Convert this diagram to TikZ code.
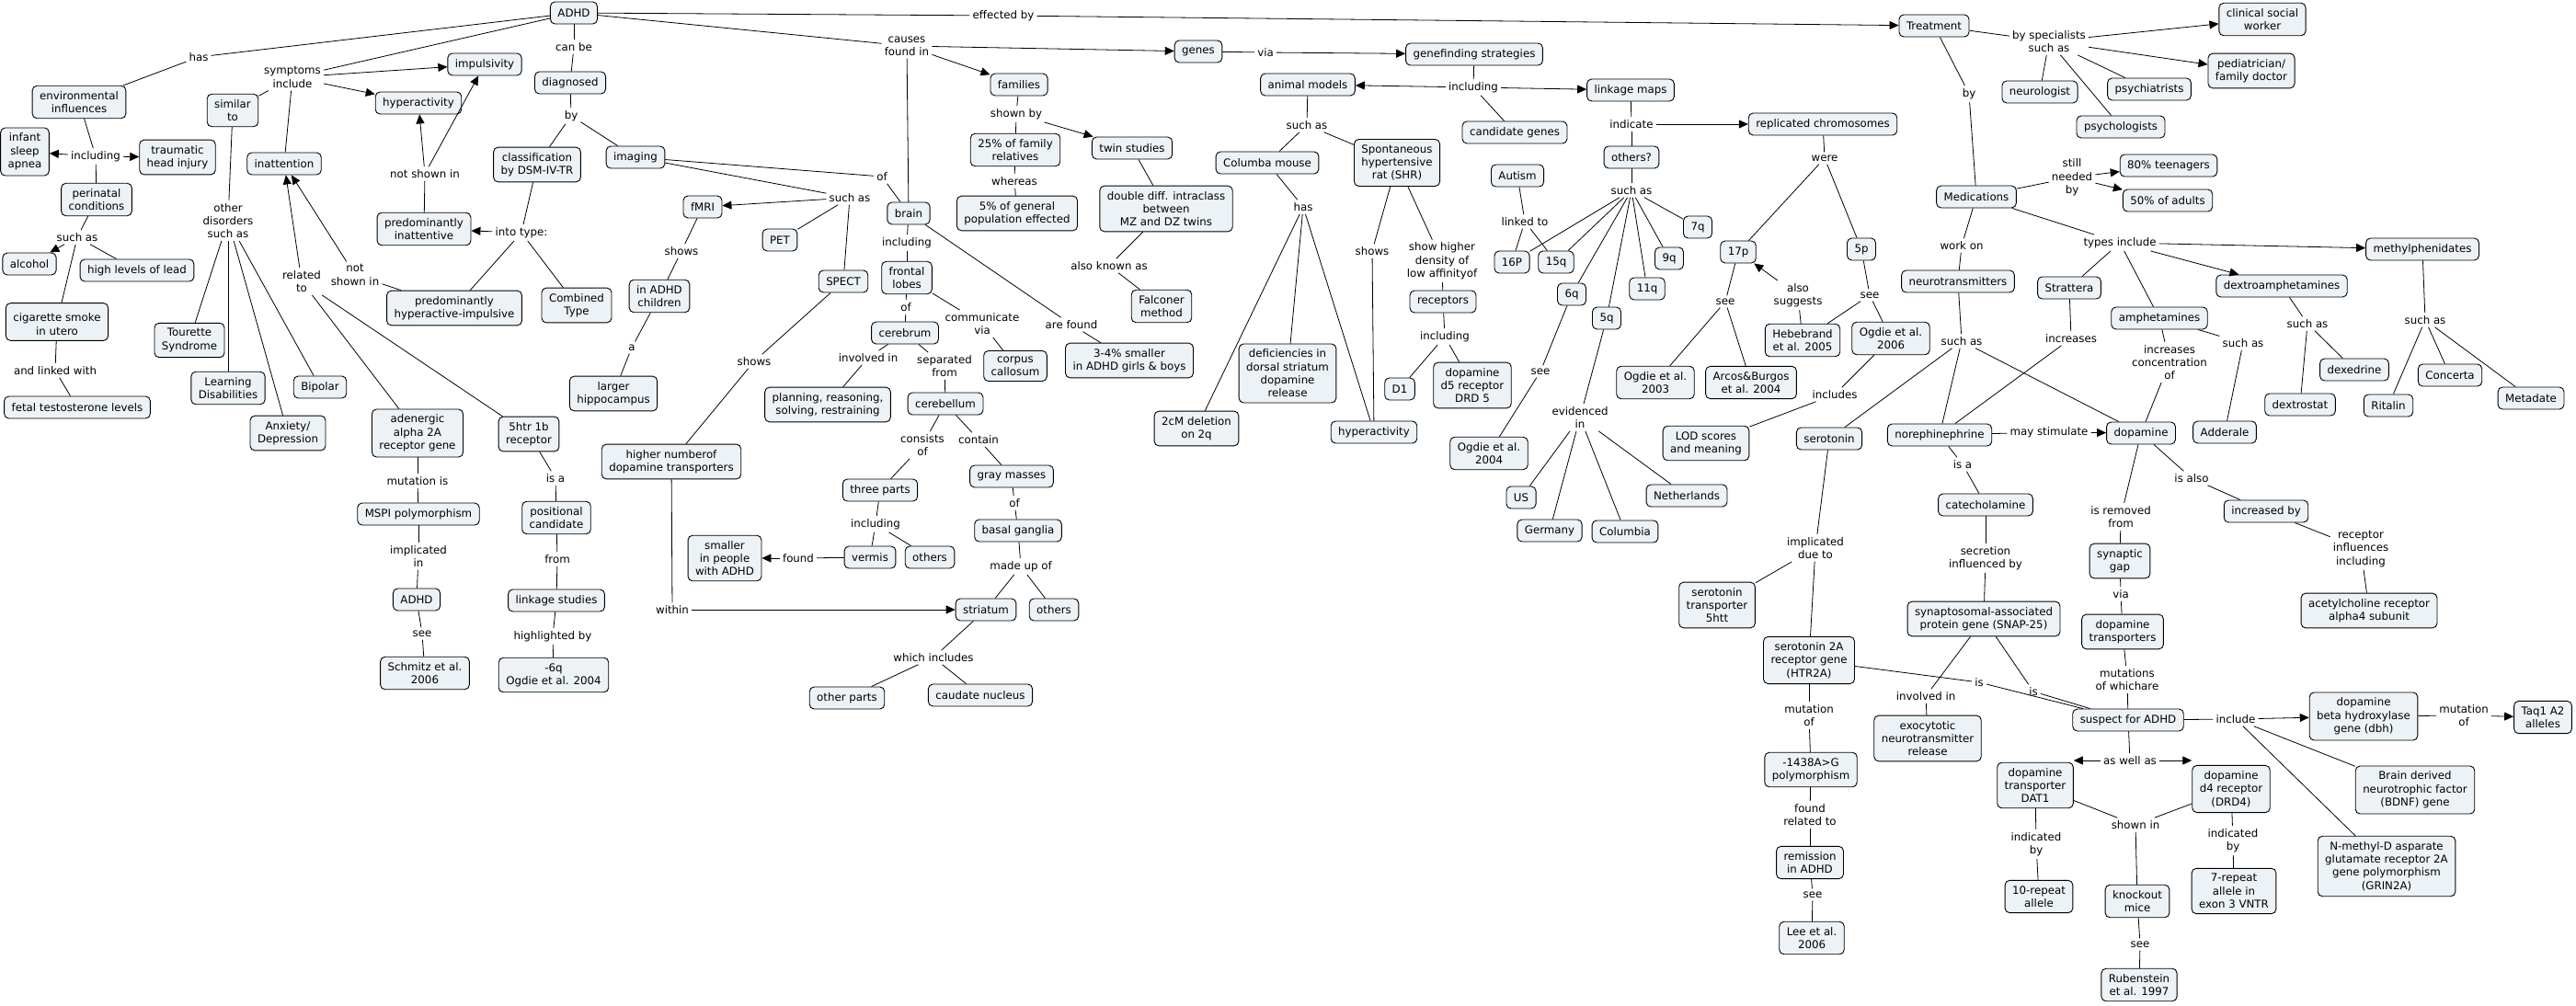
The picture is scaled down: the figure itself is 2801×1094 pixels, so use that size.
\documentclass[tikz,border=0pt]{standalone}
\usepackage{fontspec}
\setmainfont{DejaVu Sans}
\usepackage{tikz}
\usetikzlibrary{arrows.meta}
\definecolor{cmapfill}{RGB}{236,242,245}

\begin{document}
\begin{tikzpicture}[x=1pt,y=-1pt,
cpt/.style={draw,line width=0.9pt,rounded corners=5pt,fill=cmapfill,align=center,inner xsep=8pt,inner ysep=6pt,minimum height=24pt,font=\fontsize{11.8}{14.3}\selectfont},
lnk/.style={align=center,inner sep=3pt,font=\fontsize{11.8}{14.3}\selectfont},
ln/.style={line width=0.8pt},
arr/.style={-{Triangle[length=10pt,width=9pt]},line width=0.8pt}]
\path[use as bounding box,fill=white] (0,0) rectangle (2801,1094);

\node[cpt] (adhd) at (624,14) {ADHD};
\node[lnk] (has) at (216,62) {has};
\node[lnk] (sympt) at (318,84) {symptoms\\include};
\node[cpt] (impuls) at (527,70) {impulsivity};
\node[lnk] (canbe) at (624,51) {can be};
\node[cpt] (diag) at (620,90) {diagnosed};
\node[lnk] (diagby) at (621,126) {by};
\node[cpt] (envinf) at (86,111) {environmental\\influences};
\node[cpt] (simto) at (253,120) {similar\\to};
\node[cpt] (hypact) at (455,112) {hyperactivity};
\node[cpt] (infant) at (27,165) {infant\\sleep\\apnea};
\node[lnk] (envincl) at (104,170) {including};
\node[cpt] (trauma) at (193,171) {traumatic\\head injury};
\node[cpt] (inatt) at (309,178) {inattention};
\node[cpt] (dsm) at (584,179) {classification\\by DSM-IV-TR};
\node[cpt] (imaging) at (691,171) {imaging};
\node[lnk] (notshA) at (462,189) {not shown in};
\node[cpt] (perin) at (105,217) {perinatal\\conditions};
\node[cpt] (predin) at (461,249) {predominantly\\inattentive};
\node[lnk] (intotype) at (567,253) {into type:};
\node[lnk] (othdis) at (248,240) {other\\disorders\\such as};
\node[lnk] (perinsa) at (84,258) {such as};
\node[cpt] (alcohol) at (32,287) {alcohol};
\node[cpt] (lead) at (149,294) {high levels of lead};
\node[lnk] (relto) at (328,306) {related\\to};
\node[lnk] (notshB) at (386,299) {not\\shown in};
\node[cpt] (predhy) at (494,335) {predominantly\\hyperactive-impulsive};
\node[cpt] (combined) at (627,332) {Combined\\Type};
\node[cpt] (inchild) at (717,322) {in ADHD\\children};
\node[cpt] (cigar) at (62,350) {~\\cigarette smoke\\in utero};
\node[cpt] (tourette) at (206,370) {Tourette\\Syndrome};
\node[lnk] (linkedw) at (60,403) {and linked with};
\node[cpt] (fetal) at (84,443) {fetal testosterone levels};
\node[cpt] (learning) at (248,422) {Learning\\Disabilities};
\node[cpt] (bipolar) at (348,421) {Bipolar};
\node[cpt] (anxiety) at (313,471) {Anxiety/\\Depression};
\node[cpt] (adrenA) at (454,471) {adenergic\\alpha 2A\\receptor gene};
\node[cpt] (htrB) at (575,472) {5htr 1b\\receptor};
\node[cpt] (hippo) at (667,428) {larger\\hippocampus};
\node[lnk] (lbla) at (687,378) {a};
\node[cpt] (hinum) at (730,502) {higher numberof\\dopamine transporters};
\node[lnk] (mutis) at (454,523) {mutation is};
\node[lnk] (isaA) at (604,520) {is a};
\node[cpt] (mspi) at (455,559) {MSPI polymorphism};
\node[cpt] (poscand) at (605,563) {positional\\candidate};
\node[lnk] (implin) at (455,605) {implicated\\in};
\node[lnk] (from) at (606,608) {from};
\node[cpt] (adhdB) at (453,652) {ADHD};
\node[cpt] (linkst) at (605,653) {linkage studies};
\node[lnk] (seeA) at (459,689) {see};
\node[lnk] (highl) at (601,692) {highlighted by};
\node[cpt] (schmitz) at (462,732) {Schmitz et al.\\2006};
\node[cpt] (ogdieA) at (602,734) {-6q\\Ogdie et al. 2004};

\node[lnk] (effby) at (1091,17) {effected by};
\node[lnk] (causes) at (986,50) {causes\\found in};
\node[cpt] (genes) at (1303,56) {genes};
\node[lnk] (via) at (1376,57) {via};
\node[cpt] (families) at (1108,92) {families};
\node[lnk] (shownby) at (1105,124) {shown by};
\node[cpt] (fam25) at (1104,163) {25\% of family\\relatives};
\node[cpt] (twin) at (1231,161) {twin studies};
\node[lnk] (whereas) at (1103,197) {whereas};
\node[cpt] (gen5) at (1106,232) {5\% of general\\population effected};
\node[cpt] (doubled) at (1268,227) {double diff. intraclass\\between\\MZ and DZ twins};
\node[lnk] (imgof) at (959,192) {of};
\node[lnk] (imgsa) at (924,215) {such as};
\node[cpt] (fmri) at (764,225) {fMRI};
\node[cpt] (brain) at (988,232) {brain};
\node[cpt] (pet) at (848,261) {PET};
\node[lnk] (fmrish) at (741,273) {shows};
\node[lnk] (brincl) at (986,264) {including};
\node[cpt] (frontal) at (986,302) {frontal\\lobes};
\node[cpt] (spect) at (917,306) {SPECT};
\node[lnk] (aka) at (1206,289) {also known as};
\node[cpt] (falconer) at (1263,333) {Falconer\\method};
\node[lnk] (froof) at (985,334) {of};
\node[lnk] (commvia) at (1068,352) {communicate\\via};
\node[lnk] (arefound) at (1165,353) {are found};
\node[cpt] (cerebrum) at (984,362) {cerebrum};
\node[cpt] (animal) at (1422,92) {animal models};
\node[cpt] (columba) at (1378,177) {Columba mouse};
\node[lnk] (anisa) at (1421,136) {such as};
\node[lnk] (colhas) at (1417,225) {has};

\node[cpt] (treat) at (2103,28) {Treatment};
\node[cpt] (genefind) at (1603,59) {genefinding strategies};
\node[lnk] (gfincl) at (1602,95) {including};
\node[cpt] (linkmaps) at (1773,98) {linkage maps};
\node[cpt] (candgen) at (1647,144) {candidate genes};
\node[lnk] (indicate) at (1774,135) {indicate};
\node[cpt] (replchr) at (1982,135) {replicated chromosomes};
\node[cpt] (shr) at (1519,177) {Spontaneous\\hypertensive\\rat (SHR)};
\node[cpt] (others) at (1774,171) {others?};
\node[cpt] (autism) at (1650,191) {Autism};
\node[lnk] (were) at (1984,172) {were};
\node[lnk] (othsa) at (1774,207) {such as};
\node[lnk] (linkedto) at (1658,241) {linked to};
\node[cpt] (q7) at (1846,247) {7q};
\node[lnk] (shrshows) at (1492,273) {shows};
\node[lnk] (showhigh) at (1568,284) {show higher\\density of\\low affinityof};
\node[cpt] (p16) at (1644,285) {16P};
\node[cpt] (q15) at (1692,285) {15q};
\node[cpt] (q9) at (1815,281) {9q};
\node[cpt] (p17) at (1890,274) {17p};
\node[cpt] (p5) at (2024,271) {5p};
\node[cpt] (q11) at (1791,314) {11q};
\node[cpt] (q6) at (1709,320) {6q};
\node[cpt] (receptors) at (1569,328) {receptors};
\node[lnk] (see17) at (1876,328) {see};
\node[lnk] (alsosug) at (1955,321) {also\\suggests};
\node[lnk] (see5) at (2033,321) {see};
\node[cpt] (q5) at (1747,346) {5q};
\node[lnk] (recincl) at (1571,366) {including};
\node[cpt] (hebe) at (1960,370) {Hebebrand\\et al. 2005};
\node[cpt] (ogdie06) at (2056,368) {Ogdie et al.\\2006};

\node[cpt] (deficit) at (1400,406) {deficiencies in\\dorsal striatum\\dopamine\\release};
\node[cpt] (dA) at (1522,423) {D1};
\node[cpt] (drd5) at (1601,419) {dopamine\\d5 receptor\\DRD 5};
\node[lnk] (see6) at (1675,404) {see};
\node[cpt] (ogdie03) at (1800,416) {Ogdie et al.\\2003};
\node[cpt] (arcos) at (1904,416) {Arcos\&Burgos\\et al. 2004};
\node[lnk] (includes) at (1995,429) {includes};
\node[cpt] (hypactB) at (1494,470) {hyperactivity};
\node[lnk] (evid) at (1718,454) {evidenced\\in};
\node[cpt] (ogdie04) at (1619,493) {Ogdie et al.\\2004};
\node[cpt] (lod) at (1855,482) {LOD scores\\and meaning};
\node[cpt] (sero) at (1989,477) {serotonin};
\node[cpt] (noreph) at (2109,473) {norephinephrine};
\node[cpt] (us) at (1654,541) {US};
\node[cpt] (nether) at (1834,539) {Netherlands};
\node[cpt] (germany) at (1685,577) {Germany};
\node[cpt] (columbia) at (1767,578) {Columbia};
\node[lnk] (impldue) at (1974,596) {implicated\\due to};
\node[cpt] (htt) at (1867,658) {serotonin\\transporter\\5htt};
\node[cpt] (htr2a) at (1967,718) {serotonin 2A\\receptor gene\\(HTR2A)};
\node[cpt] (snap) at (2157,673) {synaptosomal-associated\\protein gene (SNAP-25)};

\node[lnk] (brshows) at (820,393) {shows};
\node[lnk] (invin) at (944,389) {involved in};
\node[lnk] (sepfrom) at (1027,398) {separated\\from};
\node[cpt] (corpus) at (1104,398) {corpus\\callosum};
\node[cpt] (smaller34) at (1228,392) {3-4\% smaller\\in ADHD girls \& boys};
\node[cpt] (planning) at (900,440) {planning, reasoning,\\solving, restraining};
\node[cpt] (cerebel) at (1028,439) {cerebellum};
\node[cpt] (cm2) at (1301,466) {2cM deletion\\on 2q};
\node[lnk] (consof) at (1003,484) {consists\\of};
\node[lnk] (contain) at (1064,478) {contain};
\node[cpt] (threep) at (957,533) {three parts};
\node[cpt] (gray) at (1100,518) {gray masses};
\node[lnk] (grayof) at (1103,547) {of};
\node[lnk] (tpincl) at (952,570) {including};
\node[cpt] (basal) at (1107,577) {basal ganglia};
\node[cpt] (smallpe) at (788,607) {smaller\\in people\\with ADHD};
\node[lnk] (found) at (868,607) {found};
\node[cpt] (vermis) at (946,606) {vermis};
\node[cpt] (othersA) at (1011,606) {others};
\node[lnk] (madeup) at (1110,616) {made up of};
\node[lnk] (within) at (731,663) {within};
\node[cpt] (striatum) at (1072,663) {striatum};
\node[cpt] (othersB) at (1146,663) {others};
\node[lnk] (whichinc) at (1015,715) {which includes};
\node[cpt] (othparts) at (921,759) {other parts};
\node[cpt] (caudate) at (1066,756) {caudate nucleus};

\node[lnk] (byspec) at (2228,45) {by specialists\\such as};
\node[cpt] (social) at (2460,21) {clinical social\\worker};
\node[cpt] (pediat) at (2448,77) {pediatrician/\\family doctor};
\node[cpt] (neuro) at (2218,100) {neurologist};
\node[cpt] (psychi) at (2337,97) {psychiatrists};
\node[cpt] (psycho) at (2306,138) {psychologists};
\node[lnk] (trby) at (2141,102) {by};
\node[cpt] (teen) at (2358,180) {80\% teenagers};
\node[lnk] (stillby) at (2253,193) {still\\needed\\by};
\node[cpt] (adults) at (2357,218) {50\% of adults};
\node[cpt] (meds) at (2149,214) {Medications};
\node[lnk] (workon) at (2133,267) {work on};
\node[lnk] (typesinc) at (2305,264) {types include};
\node[cpt] (methyl) at (2634,271) {methylphenidates};
\node[cpt] (neurotr) at (2129,306) {neurotransmitters};
\node[cpt] (stratt) at (2250,313) {Strattera};
\node[cpt] (dextro) at (2481,311) {dextroamphetamines};
\node[cpt] (amphet) at (2348,346) {amphetamines};
\node[lnk] (dexsa) at (2509,352) {such as};
\node[lnk] (metsa) at (2637,348) {such as};
\node[lnk] (ntsa) at (2133,371) {such as};
\node[lnk] (incr) at (2252,368) {increases};
\node[lnk] (ampsa) at (2439,373) {such as};
\node[lnk] (incconc) at (2359,394) {increases\\concentration\\of};
\node[cpt] (dexedrine) at (2560,402) {dexedrine};
\node[cpt] (concerta) at (2664,408) {Concerta};
\node[cpt] (metadate) at (2752,433) {Metadate};
\node[cpt] (dextrostat) at (2501,440) {dextrostat};
\node[cpt] (ritalin) at (2597,441) {Ritalin};
\node[cpt] (dopa) at (2328,471) {dopamine};
\node[cpt] (adderale) at (2419,470) {Adderale};
\node[lnk] (maystim) at (2228,470) {may stimulate};
\node[lnk] (isaB) at (2134,505) {is a};
\node[lnk] (isalso) at (2383,520) {is also};
\node[cpt] (catech) at (2159,549) {catecholamine};
\node[lnk] (remfrom) at (2306,562) {is removed\\from};
\node[cpt] (incby) at (2464,556) {increased by};
\node[lnk] (recinf) at (2567,597) {receptor\\influences\\including};
\node[cpt] (synap) at (2305,610) {synaptic\\gap};
\node[lnk] (secr) at (2159,607) {secretion\\influenced by};
\node[lnk] (viaB) at (2306,646) {via};
\node[cpt] (acetyl) at (2576,664) {acetylcholine receptor\\alpha4 subunit};
\node[cpt] (dat) at (2308,687) {dopamine\\transporters};
\node[lnk] (mutwh) at (2313,739) {mutations\\of whichare};
\node[lnk] (isC) at (2152,742) {is};
\node[lnk] (isD) at (2211,752) {is};
\node[lnk] (involv) at (2094,757) {involved in};
\node[cpt] (suspect) at (2314,783) {suspect for ADHD};
\node[lnk] (include) at (2431,782) {include};
\node[cpt] (dbh) at (2570,779) {dopamine\\beta hydroxylase\\gene (dbh)};
\node[lnk] (mutofA) at (2679,778) {mutation\\of};
\node[cpt] (taq) at (2765,780) {Taq1 A2\\alleles};
\node[cpt] (exocyt) at (2096,803) {exocytotic\\neurotransmitter\\release};
\node[lnk] (aswell) at (2316,827) {as well as};
\node[cpt] (dat1) at (2213,854) {dopamine\\transporter\\DAT1};
\node[cpt] (drd4) at (2426,858) {dopamine\\d4 receptor\\(DRD4)};
\node[cpt] (bdnf) at (2626,859) {Brain derived\\neurotrophic factor\\(BDNF) gene};
\node[lnk] (shownin) at (2322,897) {shown in};
\node[lnk] (indA) at (2214,918) {indicated\\by};
\node[lnk] (indB) at (2428,914) {indicated\\by};
\node[cpt] (grin) at (2595,942) {N-methyl-D asparate\\glutamate receptor 2A\\gene polymorphism\\(GRIN2A)};
\node[cpt] (rep10) at (2217,975) {10-repeat\\allele};
\node[cpt] (knock) at (2324,980) {knockout\\mice};
\node[cpt] (rep7) at (2429,969) {7-repeat\\allele in\\exon 3 VNTR};
\node[lnk] (seeK) at (2327,1027) {see};
\node[cpt] (ruben) at (2326,1071) {Rubenstein\\et al. 1997};
\node[lnk] (mutofB) at (1967,778) {mutation\\of};
\node[cpt] (poly) at (1969,837) {-1438A>G\\polymorphism};
\node[lnk] (foundrel) at (1968,886) {found\\related to};
\node[cpt] (remiss) at (1968,938) {remission\\in ADHD};
\node[lnk] (seeL) at (1971,973) {see};
\node[cpt] (lee) at (1970,1020) {Lee et al.\\2006};

\draw[ln] (adhd)--(has); \draw[ln] (has)--(envinf);
\draw[ln] (adhd)--(sympt); \draw[arr] (sympt)--(impuls); \draw[arr] (sympt)--(hypact);
\draw[ln] (sympt)--(inatt); \draw[ln] (sympt)--(simto);
\draw[ln] (adhd)--(canbe); \draw[ln] (canbe)--(diag); \draw[ln] (diag)--(diagby);
\draw[ln] (diagby)--(dsm); \draw[ln] (diagby)--(imaging);
\draw[ln] (envinf)--(envincl); \draw[arr] (envincl)--(infant); \draw[arr] (envincl)--(trauma); \draw[ln] (envincl)--(perin);
\draw[ln] (perin)--(perinsa); \draw[arr] (perinsa)--(alcohol); \draw[ln] (perinsa)--(lead); \draw[ln] (perinsa)--(cigar);
\draw[ln] (cigar)--(linkedw); \draw[ln] (linkedw)--(fetal);
\draw[ln] (simto)--(othdis); \draw[ln] (othdis)--(tourette); \draw[ln] (othdis)--(learning);
\draw[ln] (othdis)--(bipolar); \draw[ln] (othdis)--(anxiety);
\draw[ln] (dsm)--(intotype); \draw[arr] (intotype)--(predin); \draw[ln] (intotype)--(predhy); \draw[ln] (intotype)--(combined);
\draw[ln] (predin)--(notshA); \draw[arr] (notshA)--(hypact); \draw[arr] (notshA)--(impuls);
\draw[ln] (predhy)--(notshB); \draw[arr] (notshB)--(inatt);
\draw[arr] (relto)--(inatt); \draw[ln] (relto)--(adrenA); \draw[ln] (relto)--(htrB);
\draw[ln] (adrenA)--(mutis); \draw[ln] (mutis)--(mspi); \draw[ln] (mspi)--(implin); \draw[ln] (implin)--(adhdB);
\draw[ln] (adhdB)--(seeA); \draw[ln] (seeA)--(schmitz);
\draw[ln] (htrB)--(isaA); \draw[ln] (isaA)--(poscand); \draw[ln] (poscand)--(from); \draw[ln] (from)--(linkst);
\draw[ln] (linkst)--(highl); \draw[ln] (highl)--(ogdieA);
\draw[ln] (imaging)--(imgof); \draw[ln] (imgof)--(brain); \draw[ln] (imaging)--(imgsa);
\draw[arr] (imgsa)--(fmri); \draw[ln] (imgsa)--(pet); \draw[ln] (imgsa)--(spect);
\draw[ln] (fmri)--(fmrish); \draw[ln] (fmrish)--(inchild); \draw[ln] (inchild)--(lbla); \draw[ln] (lbla)--(hippo);
\draw[ln] (spect)--(brshows); \draw[ln] (brshows)--(hinum); \draw[ln] (hinum)--(within); \draw[arr] (within)--(striatum);
\draw[ln] (adhd)--(causes); \draw[arr] (causes)--(families); \draw[arr] (causes)--(genes); \draw[ln] (causes)--(brain);
\draw[ln] (families)--(shownby); \draw[ln] (shownby)--(fam25); \draw[arr] (shownby)--(twin);
\draw[ln] (fam25)--(whereas); \draw[ln] (whereas)--(gen5);
\draw[ln] (twin)--(doubled); \draw[ln] (doubled)--(aka); \draw[ln] (aka)--(falconer);
\draw[ln] (brain)--(brincl); \draw[ln] (brincl)--(frontal); \draw[ln] (frontal)--(froof); \draw[ln] (froof)--(cerebrum);
\draw[ln] (frontal)--(commvia); \draw[ln] (commvia)--(corpus);
\draw[ln] (brain)--(arefound); \draw[ln] (arefound)--(smaller34);
\draw[ln] (cerebrum)--(invin); \draw[ln] (invin)--(planning); \draw[ln] (cerebrum)--(sepfrom); \draw[ln] (sepfrom)--(cerebel);
\draw[ln] (cerebel)--(consof); \draw[ln] (consof)--(threep); \draw[ln] (threep)--(tpincl);
\draw[ln] (tpincl)--(vermis); \draw[ln] (tpincl)--(othersA); \draw[ln] (vermis)--(found); \draw[arr] (found)--(smallpe);
\draw[ln] (cerebel)--(contain); \draw[ln] (contain)--(gray); \draw[ln] (gray)--(grayof); \draw[ln] (grayof)--(basal);
\draw[ln] (basal)--(madeup); \draw[ln] (madeup)--(striatum); \draw[ln] (madeup)--(othersB);
\draw[ln] (striatum)--(whichinc); \draw[ln] (whichinc)--(othparts); \draw[ln] (whichinc)--(caudate);
\draw[ln] (genes)--(via); \draw[arr] (via)--(genefind);
\draw[ln] (genefind)--(gfincl); \draw[arr] (gfincl)--(animal); \draw[arr] (gfincl)--(linkmaps); \draw[ln] (gfincl)--(candgen);
\draw[ln] (animal)--(anisa); \draw[ln] (anisa)--(columba); \draw[ln] (anisa)--(shr);
\draw[ln] (columba)--(colhas); \draw[ln] (colhas)--(cm2); \draw[ln] (colhas)--(deficit); \draw[ln] (colhas)--(hypactB);
\draw[ln] (shr)--(shrshows); \draw[ln] (shrshows)--(hypactB);
\draw[ln] (shr)--(showhigh); \draw[ln] (showhigh)--(receptors); \draw[ln] (receptors)--(recincl);
\draw[ln] (recincl)--(dA); \draw[ln] (recincl)--(drd5);
\draw[ln] (linkmaps)--(indicate); \draw[arr] (indicate)--(replchr); \draw[ln] (indicate)--(others);
\draw[ln] (others)--(othsa); \draw[ln] (othsa)--(p16); \draw[ln] (othsa)--(q15); \draw[ln] (othsa)--(q6);
\draw[ln] (othsa)--(q5); \draw[ln] (othsa)--(q11); \draw[ln] (othsa)--(q9); \draw[ln] (othsa)--(q7);
\draw[ln] (autism)--(linkedto); \draw[ln] (linkedto)--(p16); \draw[ln] (linkedto)--(q15);
\draw[ln] (replchr)--(were); \draw[ln] (were)--(p17); \draw[ln] (were)--(p5);
\draw[ln] (p17)--(see17); \draw[ln] (see17)--(ogdie03); \draw[ln] (see17)--(arcos);
\draw[ln] (hebe)--(alsosug); \draw[arr] (alsosug)--(p17);
\draw[ln] (p5)--(see5); \draw[ln] (see5)--(hebe); \draw[ln] (see5)--(ogdie06);
\draw[ln] (ogdie06)--(includes); \draw[ln] (includes)--(lod);
\draw[ln] (q6)--(see6); \draw[ln] (see6)--(ogdie04);
\draw[ln] (q5)--(evid); \draw[ln] (evid)--(us); \draw[ln] (evid)--(germany); \draw[ln] (evid)--(columbia); \draw[ln] (evid)--(nether);
\draw[ln] (adhd)--(effby); \draw[arr] (effby)--(treat);
\draw[ln] (treat)--(byspec); \draw[arr] (byspec)--(social); \draw[arr] (byspec)--(pediat);
\draw[ln] (byspec)--(neuro); \draw[ln] (byspec)--(psychi); \draw[ln] (byspec)--(psycho);
\draw[ln] (treat)--(trby); \draw[ln] (trby)--(meds);
\draw[ln] (meds)--(stillby); \draw[arr] (stillby)--(teen); \draw[arr] (stillby)--(adults);
\draw[ln] (meds)--(typesinc); \draw[arr] (typesinc)--(methyl); \draw[arr] (typesinc)--(dextro);
\draw[ln] (typesinc)--(stratt); \draw[ln] (typesinc)--(amphet);
\draw[ln] (meds)--(workon); \draw[ln] (workon)--(neurotr); \draw[ln] (neurotr)--(ntsa);
\draw[ln] (ntsa)--(sero); \draw[ln] (ntsa)--(noreph); \draw[ln] (ntsa)--(dopa);
\draw[ln] (stratt)--(incr); \draw[ln] (incr)--(noreph);
\draw[ln] (amphet)--(incconc); \draw[ln] (incconc)--(dopa); \draw[ln] (amphet)--(ampsa); \draw[ln] (ampsa)--(adderale);
\draw[ln] (dextro)--(dexsa); \draw[ln] (dexsa)--(dextrostat); \draw[ln] (dexsa)--(dexedrine);
\draw[ln] (methyl)--(metsa); \draw[ln] (metsa)--(ritalin); \draw[ln] (metsa)--(concerta); \draw[ln] (metsa)--(metadate);
\draw[ln] (noreph)--(maystim); \draw[arr] (maystim)--(dopa);
\draw[ln] (noreph)--(isaB); \draw[ln] (isaB)--(catech); \draw[ln] (catech)--(secr); \draw[ln] (secr)--(snap);
\draw[ln] (dopa)--(remfrom); \draw[ln] (remfrom)--(synap); \draw[ln] (synap)--(viaB); \draw[ln] (viaB)--(dat);
\draw[ln] (dat)--(mutwh); \draw[ln] (mutwh)--(suspect);
\draw[ln] (dopa)--(isalso); \draw[ln] (isalso)--(incby); \draw[ln] (incby)--(recinf); \draw[ln] (recinf)--(acetyl);
\draw[ln] (sero)--(impldue); \draw[ln] (impldue)--(htt); \draw[ln] (impldue)--(htr2a);
\draw[ln] (htr2a)--(isC); \draw[ln] (isC)--(suspect);
\draw[ln] (snap)--(isD); \draw[ln] (isD)--(suspect); \draw[ln] (snap)--(involv); \draw[ln] (involv)--(exocyt);
\draw[ln] (htr2a)--(mutofB); \draw[ln] (mutofB)--(poly); \draw[ln] (poly)--(foundrel); \draw[ln] (foundrel)--(remiss);
\draw[ln] (remiss)--(seeL); \draw[ln] (seeL)--(lee);
\draw[ln] (suspect)--(include); \draw[arr] (include)--(dbh); \draw[ln] (include)--(bdnf); \draw[ln] (include)--(grin);
\draw[ln] (dbh)--(mutofA); \draw[arr] (mutofA)--(taq);
\draw[ln] (suspect)--(aswell); \draw[arr] (aswell)--(aswell -| dat1.east); \draw[arr] (aswell)--(aswell -| drd4.west);
\draw[ln] (dat1)--(shownin); \draw[ln] (drd4)--(shownin); \draw[ln] (shownin)--(knock);
\draw[ln] (knock)--(seeK); \draw[ln] (seeK)--(ruben);
\draw[ln] (dat1)--(indA); \draw[ln] (indA)--(rep10); \draw[ln] (drd4)--(indB); \draw[ln] (indB)--(rep7);
\end{tikzpicture}
\end{document}
